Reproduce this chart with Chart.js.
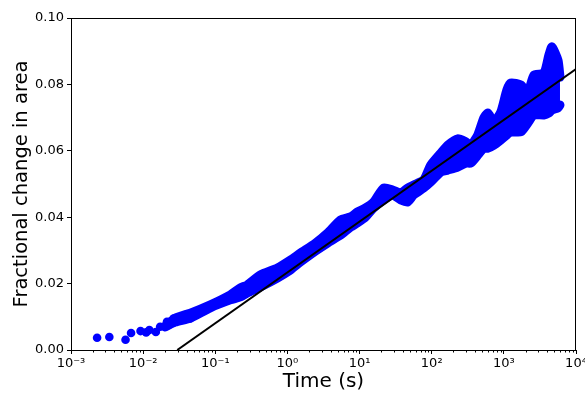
<!DOCTYPE html>
<html>
<head>
<meta charset="utf-8">
<script src="https://cdn.jsdelivr.net/npm/chart.js@4/dist/chart.umd.min.js"></script>
<style>
  html, body { margin: 0; padding: 0; background: #fff; }
  #wrap { width: 585px; height: 396px; }
</style>
</head>
<body>
<div id="wrap"><canvas id="c" width="585" height="396"></canvas></div>
<script>
// Early, sparse measurements (time in s, fractional change)
const earlyTime = [0.0023, 0.0034, 0.0057, 0.0068, 0.0092, 0.011, 0.0122, 0.015, 0.0172, 0.0214, 0.0237, 0.0264, 0.0324, 0.038, 0.045];
const earlyFrac = [0.0037, 0.0039, 0.0031, 0.0051, 0.0057, 0.0053, 0.006, 0.0054, 0.007, 0.0085, 0.0078, 0.0095, 0.0092, 0.0105, 0.0095];

// Dense measurements: sample times with the upper and lower edge of the scatter band
const bandTime = [0.0202, 0.0278, 0.045, 0.0853, 0.1616, 0.2225, 0.278, 0.4217, 0.7262, 1.101, 1.516, 2.448, 3.594, 5.446, 7.499, 9.38, 12.12, 15.65, 21.54, 28.73, 37.1, 46.42, 56.23, 77.43, 96.85, 133.4, 166.8, 229.7, 296.7, 348.0, 435.5, 527.6, 599.5, 726.2, 908.5, 1101, 1251, 1722, 2154, 2611, 3594, 4217, 4642, 5623, 6000];
const bandUpper = [0.0072, 0.0096, 0.0111, 0.0136, 0.0166, 0.0187, 0.0196, 0.0226, 0.0247, 0.0271, 0.0292, 0.0322, 0.0352, 0.0392, 0.0401, 0.0416, 0.0428, 0.0446, 0.0488, 0.0482, 0.0473, 0.0488, 0.0497, 0.0512, 0.0557, 0.0593, 0.0617, 0.0636, 0.0627, 0.0617, 0.0648, 0.0699, 0.0714, 0.0687, 0.0717, 0.0783, 0.0804, 0.0798, 0.0777, 0.0828, 0.0834, 0.0889, 0.0913, 0.0873, 0.0822];
const bandLower = [0.0069, 0.0084, 0.0096, 0.0127, 0.0151, 0.0160, 0.0172, 0.0190, 0.0217, 0.0241, 0.0265, 0.0298, 0.0322, 0.0346, 0.0370, 0.0383, 0.0401, 0.0428, 0.0452, 0.0467, 0.0452, 0.0446, 0.0467, 0.0488, 0.0506, 0.0536, 0.0542, 0.0551, 0.0563, 0.0563, 0.0587, 0.0608, 0.0608, 0.0617, 0.0633, 0.0648, 0.0657, 0.0657, 0.0684, 0.0708, 0.0708, 0.0714, 0.0723, 0.0729, 0.0738];

// Logarithmic fit line end points
const fitTime = [0.0297, 10000];
const fitFrac = [0.0, 0.0846];

// Axis ticks
const xTickExponents = [-3, -2, -1, 0, 1, 2, 3, 4];
const yTickValues = [0, 0.02, 0.04, 0.06, 0.08, 0.10];

const BLUE = '#0000ff';
const FONT = "'DejaVu Sans', sans-serif";
const sup = { '-': '\u207B', '0': '\u2070', '1': '\u00B9', '2': '\u00B2', '3': '\u00B3', '4': '\u2074', '5': '\u2075', '6': '\u2076', '7': '\u2077', '8': '\u2078', '9': '\u2079' };
const toSup = s => String(s).split('').map(ch => sup[ch] || ch).join('');

const pts = (xs, ys) => xs.map((x, i) => ({ x: x, y: ys[i] }));

const boxPlugin = {
  id: 'box',
  afterDraw(chart) {
    const { ctx, chartArea: a, scales } = chart;
    ctx.save();
    ctx.strokeStyle = '#000';
    ctx.lineWidth = 1;
    ctx.strokeRect(Math.round(a.left) + 0.5, Math.round(a.top) + 0.5, Math.round(a.right - a.left) - 1, Math.round(a.bottom - a.top));
    // minor log ticks
    const xs = scales.x;
    ctx.beginPath();
    for (let e = -3; e < 4; e++) {
      for (let m = 2; m <= 9; m++) {
        const px = Math.round(xs.getPixelForValue(m * Math.pow(10, e))) + 0.5;
        ctx.moveTo(px, a.bottom);
        ctx.lineTo(px, a.bottom + 2.5);
      }
    }
    ctx.stroke();
    ctx.restore();
  }
};

new Chart(document.getElementById('c'), {
  data: {
    datasets: [
      {
        type: 'line',
        label: 'upper',
        data: pts(bandTime, bandUpper),
        borderColor: BLUE,
        backgroundColor: BLUE,
        borderWidth: 9,
        borderJoinStyle: 'round',
        borderCapStyle: 'round',
        pointRadius: 0,
        tension: 0.2,
        fill: false,
        order: 3
      },
      {
        type: 'line',
        label: 'lower',
        data: pts(bandTime, bandLower),
        borderColor: BLUE,
        backgroundColor: BLUE,
        borderWidth: 9,
        borderJoinStyle: 'round',
        borderCapStyle: 'round',
        pointRadius: 0,
        tension: 0.2,
        fill: '-1',
        order: 3
      },
      {
        type: 'scatter',
        label: 'early',
        data: pts(earlyTime, earlyFrac),
        backgroundColor: BLUE,
        borderWidth: 0,
        pointRadius: 4.3,
        order: 2
      },
      {
        type: 'line',
        label: 'fit',
        data: pts(fitTime, fitFrac),
        borderColor: '#000',
        borderWidth: 2,
        pointRadius: 0,
        fill: false,
        order: 1
      }
    ]
  },
  options: {
    responsive: false,
    animation: false,
    devicePixelRatio: 1,
    layout: { padding: { top: 18, right: 9, left: 0, bottom: 0 } },
    plugins: { legend: { display: false }, tooltip: { enabled: false }, title: { display: false } },
    scales: {
      x: {
        type: 'logarithmic',
        min: 1e-3,
        max: 1e4,
        position: 'bottom',
        border: { display: false },
        grid: { drawOnChartArea: false, drawTicks: true, tickLength: 4, color: '#000', tickWidth: 1 },
        ticks: {
          color: '#000',
          font: { family: FONT, size: 13 },
          padding: 2,
          maxRotation: 0,
          autoSkip: false,
          callback: (v) => '10' + toSup(Math.round(Math.log10(v)))
        },
        afterBuildTicks: (scale) => { scale.ticks = xTickExponents.map(e => ({ value: Math.pow(10, e) })); },
        afterFit: (scale) => { scale.height = 46; scale.paddingLeft = 0; scale.paddingRight = 0; },
        title: { display: true, text: 'Time (s)', color: '#000', font: { family: FONT, size: 20 }, padding: { top: 0, bottom: 2 } }
      },
      y: {
        type: 'linear',
        min: 0,
        max: 0.10,
        border: { display: false },
        grid: { drawOnChartArea: false, drawTicks: true, tickLength: 4, color: '#000', tickWidth: 1 },
        ticks: {
          color: '#000',
          font: { family: FONT, size: 13 },
          padding: 3,
          callback: (v) => Number(v).toFixed(2)
        },
        afterBuildTicks: (scale) => { scale.ticks = yTickValues.map(v => ({ value: v })); },
        afterFit: (scale) => { scale.width = 71; },
        title: { display: true, text: 'Fractional change in area', color: '#000', font: { family: FONT, size: 19.5 }, padding: { top: 10, bottom: 0 } }
      }
    }
  },
  plugins: [boxPlugin]
});
</script>
</body>
</html>
